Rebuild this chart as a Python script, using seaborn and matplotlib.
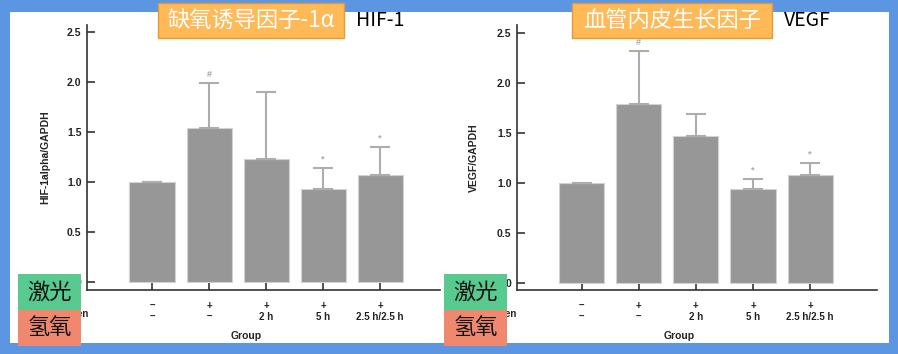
import matplotlib
matplotlib.use("Agg")
import numpy as np
import pandas as pd
import seaborn as sns
import matplotlib.pyplot as plt
from matplotlib.patches import Rectangle

# data
groups = ["G1", "G2", "G3", "G4", "G5"]
laser = ["–", "+", "+", "+", "+"]
hydrogen = ["–", "–", "2 h", "5 h", "2.5 h/2.5 h"]
hif_mean = [1.00, 1.54, 1.23, 0.93, 1.07]
hif_err = [0.005, 0.45, 0.67, 0.21, 0.28]
hif_marks = ["", "#", "", "*", "*"]
vegf_mean = [1.00, 1.79, 1.47, 0.94, 1.08]
vegf_err = [0.005, 0.53, 0.22, 0.10, 0.12]
vegf_marks = ["", "#", "", "*", "*"]
yticks = [0, 0.5, 1.0, 1.5, 2.0, 2.5]
ytick_labels = ["0", "0.5", "1.0", "1.5", "2.0", "2.5"]

sns.set_style("white")
plt.rcParams["font.family"] = ["Liberation Sans", "DejaVu Sans"]
cjk = ["Noto Sans CJK SC", "DejaVu Sans"]

W, H = 898, 354
fig = plt.figure(figsize=(W / 100, H / 100), dpi=100)
fig.patch.set_facecolor("#5C95E2")


def box(x0, y0, x1, y1):
    # pixel box -> figure fraction rectangle
    return (x0 / W, 1 - y1 / H), (x1 - x0) / W, (y1 - y0) / H


def add_rect(x0, y0, x1, y1, fc, ec="none", z=1, lw=1):
    xy, w, h = box(x0, y0, x1, y1)
    fig.add_artist(Rectangle(xy, w, h, transform=fig.transFigure, fc=fc, ec=ec, lw=lw, zorder=z))


# white panel
add_rect(10, 12, 889, 343, "white", z=-1)

bar_c = "#979797"
err_c = "#ADADAD"


def panel(rect, ylim, xlim, means, errs, marks, ylabel):
    ax = fig.add_axes(rect)
    ax.set_facecolor("none")
    df = pd.DataFrame({"group": groups, "value": means})
    sns.barplot(data=df, x="group", y="value", color=bar_c, width=0.79,
                edgecolor="#D2D2D2", linewidth=0.8, saturation=1, ax=ax)
    for p in ax.patches:
        p.set_facecolor(bar_c)
    xs = np.arange(len(groups))
    ax.errorbar(xs, means, yerr=[np.zeros(len(errs)), errs], fmt="none",
                ecolor=err_c, elinewidth=1.5, capsize=7, capthick=1.5, zorder=1)
    for x, m, e, s in zip(xs, means, errs, marks):
        if s:
            ax.text(x, m + e + 0.04, s, ha="center", va="bottom", fontsize=6.5,
                    color="#A8A8A8", fontweight="bold")
    ax.set_xlim(*xlim)
    ax.set_ylim(*ylim)
    ax.set_yticks(yticks)
    ax.set_yticklabels(ytick_labels, fontsize=7.5, fontweight="bold", color="#222222")
    ax.set_xticks(xs)
    ax.set_xticklabels([f"{a}\n{b}" for a, b in zip(laser, hydrogen)], fontsize=7,
                       fontweight="bold", color="#222222", linespacing=1.15)
    ax.tick_params(axis="both", direction="in", length=6, width=1.2, color="#333333",
                   bottom=True, left=True)
    ax.tick_params(axis="x", pad=8)
    ax.tick_params(axis="y", pad=4)
    for side in ["top", "right"]:
        ax.spines[side].set_visible(False)
    for side in ["left", "bottom"]:
        ax.spines[side].set_color("#333333")
        ax.spines[side].set_linewidth(1.2)
    ax.set_xlabel("Group", fontsize=7.5, fontweight="bold", color="#222222")
    ax.xaxis.set_label_coords(0.45, -0.155)
    ax.set_ylabel(ylabel, fontsize=7.5, fontweight="bold", color="#222222")
    ax.yaxis.set_label_coords(-0.105, 0.5)
    return ax


ax1 = panel([87 / W, (H - 290) / H, 353 / W, 265 / H], (-0.08, 2.57), (-1.14, 5.05),
            hif_mean, hif_err, hif_marks, "HIF-1alpha/GAPDH")
ax2 = panel([517 / W, (H - 290) / H, 360 / W, 265 / H], (-0.07, 2.58), (-1.13, 5.17),
            vegf_mean, vegf_err, vegf_marks, "VEGF/GAPDH")

# row labels (mostly covered by the coloured boxes)
for xr in [89, 517]:
    fig.text(xr / W, 1 - 314 / H, "Hydrogen", ha="right", va="center", fontsize=7,
             fontweight="bold", color="#222222", zorder=2)
    fig.text((xr - 46) / W, 1 - 303 / H, "Laser", ha="left", va="center", fontsize=7,
             fontweight="bold", color="#222222", zorder=2)

# title boxes
add_rect(158, 3, 344, 38, "#FFB957", ec="#E49A36", z=5)
fig.text(251 / W, 1 - 21 / H, "缺氧诱导因子-1α", ha="center", va="center", fontsize=16,
         color="white", family=cjk, zorder=6)
fig.text(356 / W, 1 - 21 / H, "HIF-1", ha="left", va="center", fontsize=14,
         color="black", family=cjk, zorder=6)

add_rect(572, 3, 772, 38, "#FFB957", ec="#E49A36", z=5)
fig.text(672 / W, 1 - 21 / H, "血管内皮生长因子", ha="center", va="center", fontsize=16,
         color="white", family=cjk, zorder=6)
fig.text(784 / W, 1 - 21 / H, "VEGF", ha="left", va="center", fontsize=14,
         color="black", family=cjk, zorder=6)

# laser / hydrogen boxes
for x0 in [18, 444]:
    add_rect(x0, 274, x0 + 63, 310, "#58C98F", z=5)
    add_rect(x0, 310, x0 + 63, 346, "#F0886F", z=5)
    fig.text((x0 + 31.5) / W, 1 - 292 / H, "激光", ha="center", va="center",
             fontsize=16, color="#111111", family=cjk, zorder=6)
    fig.text((x0 + 31.5) / W, 1 - 328 / H, "氢氧", ha="center", va="center",
             fontsize=16, color="#111111", family=cjk, zorder=6)

fig.savefig("out.png", dpi=100, facecolor=fig.get_facecolor())
